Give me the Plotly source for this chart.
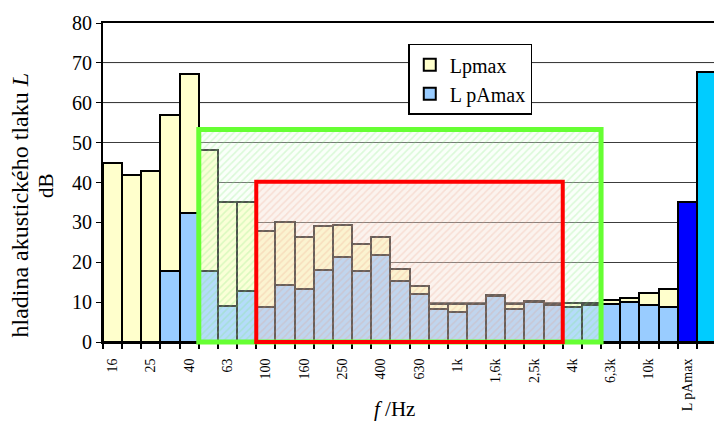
import plotly.graph_objects as go

# ---- data -------------------------------------------------------------
bands = ["16", "20", "25", "31,5", "40", "50", "63", "80", "100", "125", "160",
         "200", "250", "315", "400", "500", "630", "800", "1k", "1,25k", "1,6k",
         "2k", "2,5k", "3,15k", "4k", "5k", "6,3k", "8k", "10k", "12,5k"]
lpmax = [45.0, 41.8, 42.8, 57.0, 67.2, 48.1, 35.1, 35.1, 27.9, 30.1, 26.3,
         29.2, 29.4, 24.6, 26.4, 18.2, 14.0, 9.6, 9.6, 9.6, 11.7,
         9.6, 10.3, 9.6, 9.9, 9.9, 10.5, 11.0, 12.3, 13.2]
lpamax = [None, None, None, 17.8, 32.4, 17.8, 9.0, 12.9, 8.7, 14.3, 13.2,
          18.1, 21.2, 17.9, 21.7, 15.4, 12.0, 8.2, 7.5, 9.5, 11.6,
          8.4, 10.0, 9.3, 8.9, 9.2, 9.6, 10.0, 9.4, 8.9]
summary_labels = ["L pAmax", "L pmax"]
summary_values = [35.0, 67.8]

# highlighted frequency ranges: (first band, last band, level in dB)
green_band = ("50", "5k", 53.3)
red_band = ("100", "3,15k", 40.2)

y_ticks = [0, 10, 20, 30, 40, 50, 60, 70, 80]

# ---- derived ----------------------------------------------------------
categories = bands + summary_labels
xpos = list(range(len(categories)))
band_x = xpos[:len(bands)]
y_max = y_ticks[-1]

def span(band):
    a, b, lvl = band
    return categories.index(a) - 0.5, categories.index(b) + 0.5, lvl

g0, g1, gt = span(green_band)
r0, r1, rt = span(red_band)

SERIF = "Liberation Serif"

fig = go.Figure()

fig.add_trace(go.Bar(
    x=band_x, y=lpmax, name="Lpmax", width=1,
    marker=dict(color="#FFFFCC", line=dict(color="black", width=2)),
))
fig.add_trace(go.Bar(
    x=band_x, y=lpamax, name="L pAmax", width=1,
    marker=dict(color="#99CCFF", line=dict(color="black", width=2)),
))
fig.add_trace(go.Bar(
    x=[xpos[len(bands)]], y=[summary_values[0]], width=1, showlegend=False,
    marker=dict(color="#0000FF", line=dict(color="black", width=2)),
))
fig.add_trace(go.Bar(
    x=[xpos[len(bands) + 1]], y=[summary_values[1]], width=1, showlegend=False,
    marker=dict(color="#00CCFF", line=dict(color="black", width=2)),
))

# hatched overlays (green area outside red, then red area)
fig.add_trace(go.Scatter(
    x=[g0, g0, g1, g1, r1, r1, r0, r0, g0],
    y=[0, gt, gt, 0, 0, rt, rt, 0, 0],
    mode="lines", line=dict(width=0), fill="toself",
    fillcolor="rgba(242,255,242,0.32)",
    fillpattern=dict(shape="/", fgcolor="rgba(120,230,110,0.5)",
                     bgcolor="rgba(242,255,242,0.32)", size=5, solidity=0.3),
    showlegend=False, hoverinfo="skip",
))
fig.add_trace(go.Scatter(
    x=[r0, r0, r1, r1, r0],
    y=[0, rt, rt, 0, 0],
    mode="lines", line=dict(width=0), fill="toself",
    fillcolor="rgba(246,226,214,0.42)",
    fillpattern=dict(shape="/", fgcolor="rgba(232,140,110,0.42)",
                     bgcolor="rgba(246,226,214,0.42)", size=5, solidity=0.3),
    showlegend=False, hoverinfo="skip",
))

shapes = [
    dict(type="line", xref="paper", yref="y", x0=0, x1=1, y0=60, y1=60,
         line=dict(color="#c4c4c4", width=1), layer="between"),
    dict(type="line", xref="paper", yref="y", x0=0, x1=1, y0=70, y1=70,
         line=dict(color="#dcdcdc", width=1), layer="between"),
    dict(type="rect", xref="x", yref="y domain", x0=g0, x1=g1, y0=0, y1=gt / y_max,
         line=dict(color="#66FF33", width=5), fillcolor="rgba(0,0,0,0)", layer="above"),
    dict(type="rect", xref="x", yref="y domain", x0=r0, x1=r1, y0=0, y1=rt / y_max,
         line=dict(color="#FF0000", width=4), fillcolor="rgba(0,0,0,0)", layer="above"),
]

annotations = [
    dict(text="hladina akustického tlaku <i>L</i>", xref="paper", yref="paper",
         x=-0.135, y=0.4286, textangle=-90, showarrow=False,
         xanchor="center", yanchor="middle", font=dict(family=SERIF, size=24, color="black")),
    dict(text="dB", xref="paper", yref="paper",
         x=-0.094, y=0.49, textangle=-90, showarrow=False,
         xanchor="center", yanchor="middle", font=dict(family=SERIF, size=21, color="black")),
    dict(text="<i>f</i> /Hz", xref="paper", yref="paper",
         x=0.475, y=-0.211, showarrow=False,
         xanchor="center", yanchor="middle", font=dict(family=SERIF, size=21, color="black")),
]

# the page body adds an 8 px offset, so the figure is sized to fit the window
fig.update_layout(
    width=714, height=418,
    margin=dict(l=95, r=4, t=12, b=84, pad=0),
    paper_bgcolor="white", plot_bgcolor="white",
    barmode="overlay", bargap=0,
    font=dict(family=SERIF, color="black"),
    shapes=shapes, annotations=annotations,
    legend=dict(x=0.498, y=0.935, xanchor="left", yanchor="top",
                bgcolor="white", bordercolor="black", borderwidth=1.5,
                font=dict(family=SERIF, size=20, color="black")),
    xaxis=dict(
        range=[-0.5, len(categories) - 0.5],
        tickmode="array", tickvals=xpos[::2], ticktext=categories[::2],
        tickangle=-90, ticks="", ticklabelstandoff=9,
        tickfont=dict(family=SERIF, size=14, color="black"),
        showline=True, linecolor="black", linewidth=2, mirror=True,
        showgrid=False, zeroline=False, layer="below traces",
        minor=dict(tickmode="array", tickvals=[i - 0.5 for i in range(len(categories) + 1)],
                   ticks="outside", ticklen=5, tickcolor="black", tickwidth=1.5,
                   showgrid=False),
    ),
    yaxis=dict(
        range=[0, y_max], tickmode="array", tickvals=y_ticks,
        ticks="outside", ticklen=5, tickcolor="black", tickwidth=1,
        tickfont=dict(family=SERIF, size=20, color="black"),
        showline=True, linecolor="black", linewidth=2, mirror=True,
        showgrid=True, gridcolor="#3c3c3c", gridwidth=1, zeroline=False,
        layer="below traces",
    ),
)

fig.write_html("out.html")
